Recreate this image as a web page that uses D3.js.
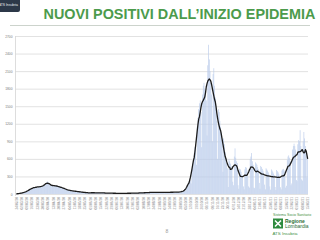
<!DOCTYPE html>
<html>
<head>
<meta charset="utf-8">
<script src="https://cdn.jsdelivr.net/npm/d3@7"></script>
<style>
  body { margin: 0; background: #fff; }
  svg { display: block; font-family: "Liberation Sans", Arial, sans-serif; }
</style>
</head>
<body>
<svg id="chart" width="320" height="240"></svg>
<script>
// first day of the series (Monday 24 Feb 2020), one value per day
var startDate = new Date(2020, 1, 24);

// daily new positives, week by week (Mon..Sun)
var daily = [
  1, 2, 4, 6, 9, 12, 16,
  14, 18, 22, 26, 30, 34, 40,
  45, 55, 62, 70, 80, 88, 95,
  96, 104, 108, 112, 116, 118, 120,
  110, 125, 122, 130, 128, 124, 135,
  130, 145, 150, 165, 172, 195, 215,
  205, 175, 160, 150, 145, 155, 140,
  130, 145, 150, 138, 140, 135, 130,
  120, 130, 118, 115, 112, 108, 100,
  95, 90, 85, 80, 76, 72, 68,
  62, 60, 58, 56, 55, 52, 50,
  48, 47, 45, 44, 42, 40, 38,
  36, 35, 33, 31, 30, 28, 27,
  25, 24, 23, 22, 21, 20, 20,
  12, 24, 25, 24, 23, 22, 20,
  10, 24, 23, 22, 24, 21, 19,
  9, 20, 21, 20, 19, 18, 17,
  8, 17, 17, 16, 17, 15, 14,
  6, 15, 14, 15, 14, 13, 12,
  5, 14, 13, 14, 13, 12, 11,
  5, 13, 14, 13, 14, 12, 12,
  6, 14, 15, 14, 15, 13, 13,
  7, 16, 17, 17, 16, 15, 15,
  8, 19, 21, 20, 21, 19, 18,
  10, 24, 25, 26, 25, 22, 22,
  12, 29, 31, 32, 31, 28, 26,
  13, 32, 34, 33, 34, 30, 28,
  14, 31, 33, 34, 33, 31, 27,
  13, 30, 32, 33, 31, 30, 27,
  14, 32, 35, 34, 35, 31, 29,
  15, 34, 37, 36, 37, 34, 31,
  20, 40, 45, 50, 55, 58, 62,
  60, 110, 140, 170, 210, 250, 230,
  180, 420, 520, 620, 700, 800, 760,
  500, 1150, 1300, 1450, 1550, 1600, 1400,
  800, 1700, 1850, 1900, 1800, 1750, 1600,
  1000, 2200, 2550, 2300, 2100, 1900, 1700,
  900, 2050, 2150, 1850, 1650, 1450, 1250,
  600, 1450, 1400, 1250, 1150, 1050, 900,
  380, 950, 850, 720, 620, 520, 440,
  120, 600, 560, 520, 450, 480, 210,
  150, 640, 780, 620, 560, 530, 150,
  90, 430, 420, 380, 330, 320, 130,
  80, 420, 460, 450, 400, 300, 130,
  110, 600, 640, 700, 560, 500, 110,
  100, 540, 520, 500, 460, 420, 190,
  90, 480, 460, 430, 400, 360, 160,
  80, 440, 420, 400, 370, 330, 130,
  75, 420, 400, 380, 350, 320, 120,
  70, 410, 390, 370, 340, 300, 115,
  80, 400, 420, 430, 400, 330, 110,
  140, 580, 640, 660, 620, 560, 150,
  180, 760, 820, 860, 820, 760, 240,
  220, 850, 920, 900, 1090, 820, 250,
  230, 900, 1060, 950, 820, 700, 280,
  600
];

var yTicks = [0, 300, 600, 900, 1200, 1500, 1800, 2100, 2400, 2700];

var titleText = "NUOVI POSITIVI DALL\u2019INIZIO EPIDEMIA";

var data = daily.map(function(v, i) {
    return { date: d3.timeDay.offset(startDate, i), value: v, i: i };
});

// 7 day centred moving average for the black line
data.forEach(function(d, i) {
    var win = daily.slice(Math.max(0, i - 3), Math.min(daily.length, i + 4));
    d.avg = d3.mean(win);
});

var svg = d3.select("#chart");

var x = d3.scaleBand()
    .domain(data.map(function(d) { return d.i; }))
    .range([16, 308])
    .paddingInner(0.12);

var y = d3.scaleLinear().domain([0, 2700]).range([194, 36]);

// header
svg.append("rect").attr("x", -4).attr("y", -4).attr("width", 24).attr("height", 16)
    .attr("rx", 2).attr("fill", "#2c3848");
svg.append("text").attr("x", 18).attr("y", 6).attr("text-anchor", "end")
    .attr("font-size", 3.4).attr("fill", "#e8eef4").text("ATS Insubria");

svg.append("text")
    .attr("x", 43.5).attr("y", 18.5)
    .attr("font-size", 14.4).attr("font-weight", "bold")
    .attr("fill", "#4c9b4c")
    .text(titleText);

svg.append("line").attr("x1", 10).attr("x2", 310).attr("y1", 25.5).attr("y2", 25.5)
    .attr("stroke", "#bfc8bf").attr("stroke-width", 0.8);

// grid
svg.append("g").selectAll("line")
    .data(yTicks)
    .enter().append("line")
    .attr("x1", 15.5).attr("x2", 308)
    .attr("y1", function(d) { return y(d) + 0.5; })
    .attr("y2", function(d) { return y(d) + 0.5; })
    .attr("stroke", "#d6d6d6").attr("stroke-width", 0.7);

svg.append("line").attr("x1", 15.5).attr("x2", 15.5).attr("y1", 36).attr("y2", 196)
    .attr("stroke", "#cfcfcf").attr("stroke-width", 0.7);

svg.append("g").selectAll("text")
    .data(yTicks)
    .enter().append("text")
    .attr("x", 12.5)
    .attr("y", function(d) { return y(d) + 1.6; })
    .attr("text-anchor", "end")
    .attr("font-size", 3.3)
    .attr("fill", "#7a7a7a")
    .text(function(d) { return d; });

// bars
svg.append("g").selectAll("rect")
    .data(data)
    .enter().append("rect")
    .attr("x", function(d) { return x(d.i); })
    .attr("y", function(d) { return y(d.value); })
    .attr("width", x.bandwidth())
    .attr("height", function(d) { return y(0) - y(d.value); })
    .attr("fill", "#bccdeb");

// moving average line
var line = d3.line()
    .x(function(d) { return x(d.i) + x.bandwidth() / 2; })
    .y(function(d) { return y(d.avg); });

svg.append("path")
    .datum(data)
    .attr("d", line)
    .attr("fill", "none")
    .attr("stroke", "#1c1c1c")
    .attr("stroke-width", 1.3)
    .attr("stroke-linejoin", "round");

// weekly date labels
var fmt = d3.timeFormat("%d/%m/%y");
svg.append("g").selectAll("text")
    .data(data.filter(function(d) { return d.i % 7 === 0; }))
    .enter().append("text")
    .attr("transform", function(d) {
        return "translate(" + (x(d.i) + x.bandwidth() / 2 + 1.2) + ",197) rotate(-90)";
    })
    .attr("text-anchor", "end")
    .attr("font-size", 3.2)
    .attr("fill", "#8a8a8a")
    .text(function(d) { return fmt(d.date); });

// page number
svg.append("text").attr("x", 167).attr("y", 233).attr("text-anchor", "middle")
    .attr("font-size", 5).attr("fill", "#9a9a9a").text("8");

// logo bottom right
var logo = svg.append("g");
logo.append("text").attr("x", 273).attr("y", 215.5)
    .attr("font-size", 3.6).attr("fill", "#3f8f45").text("Sistema Socio Sanitario");
logo.append("rect").attr("x", 273).attr("y", 218.5).attr("width", 10).attr("height", 10)
    .attr("fill", "#2e8b3e");
logo.append("path")
    .attr("d", "M275,220.5 L281,226.5 M281,220.5 L275,226.5")
    .attr("stroke", "#fff").attr("stroke-width", 1.6);
logo.append("text").attr("x", 285).attr("y", 222.8)
    .attr("font-size", 5).attr("font-weight", "bold").attr("fill", "#2e6e35").text("Regione");
logo.append("text").attr("x", 285).attr("y", 228.3)
    .attr("font-size", 5).attr("fill", "#2e6e35").text("Lombardia");
logo.append("text").attr("x", 272.5).attr("y", 235)
    .attr("font-size", 4.4).attr("fill", "#3f8f45").text("ATS Insubria");
</script>
</body>
</html>
